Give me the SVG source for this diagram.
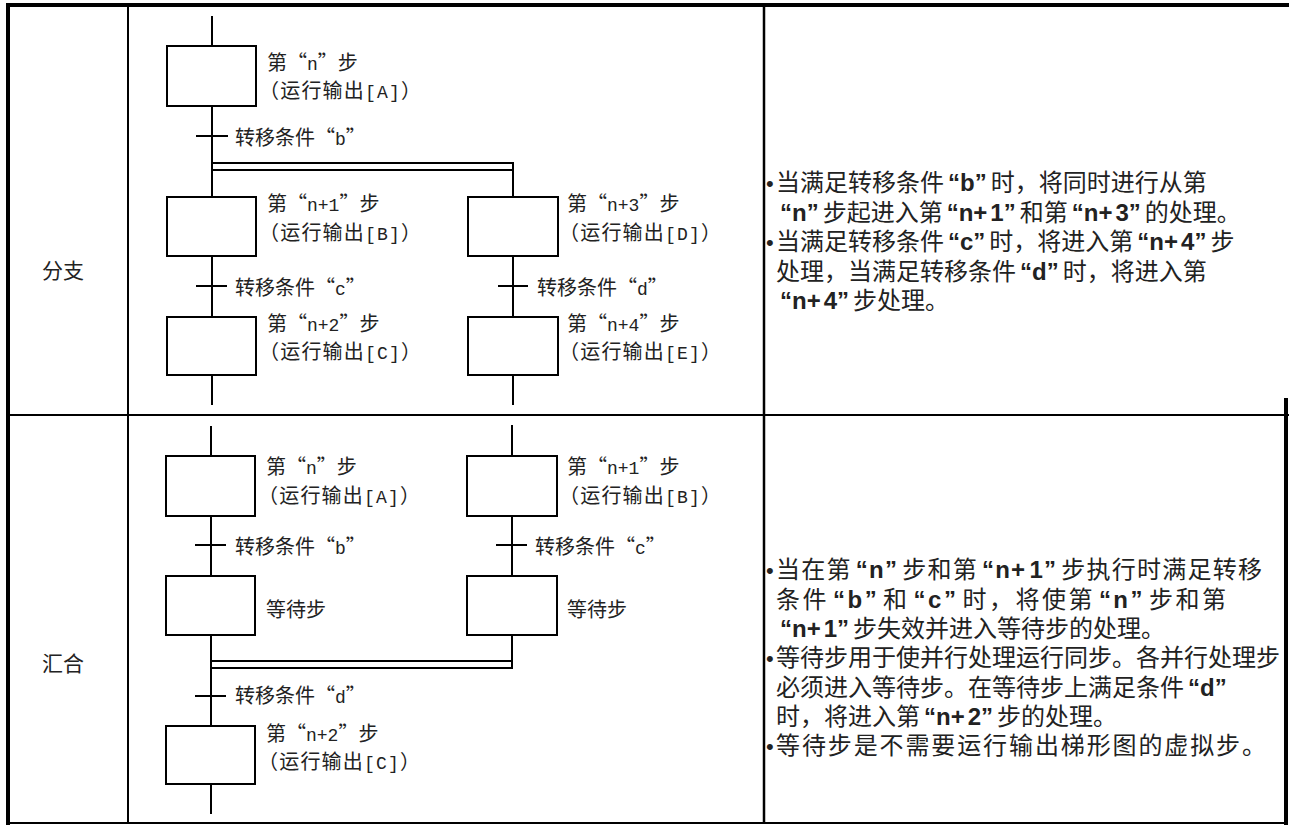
<svg xmlns="http://www.w3.org/2000/svg" width="1289" height="825" viewBox="0 0 1289 825">
<style>
.tb{stroke:#000;fill:none}
.box{fill:#fff;stroke:#000;stroke-width:2}
.ln{stroke:#000;stroke-width:2;fill:none}
.lab{font-family:"Noto Sans CJK SC",sans-serif;font-size:20px;fill:#222}
.M{font-family:"Liberation Mono",monospace;font-size:18px}
.hd{font-family:"Noto Sans CJK SC",sans-serif;font-size:21px;fill:#222}
.tx{font-family:"Noto Sans CJK SC",sans-serif;font-size:24px;fill:#222}
.bu{font-family:"Liberation Sans",sans-serif;font-size:22px;fill:#222}
.L{font-family:"Liberation Sans",sans-serif;font-weight:bold}
</style>
<rect width="1289" height="825" fill="#fff"/>
<g id="table">
<line class="tb" x1="6" y1="5" x2="1289" y2="5" stroke-width="4"/>
<line class="tb" x1="8" y1="3" x2="8" y2="825" stroke-width="4"/>
<line class="tb" x1="8" y1="415" x2="1289" y2="415" stroke-width="2"/>
<line class="tb" x1="128" y1="5" x2="128" y2="823" stroke-width="2"/>
<line class="tb" x1="764" y1="5" x2="764" y2="823" stroke-width="2.5"/>
<line class="tb" x1="8" y1="823" x2="1288" y2="823" stroke-width="2"/>
<line class="tb" x1="1286" y1="398" x2="1286" y2="825" stroke-width="4"/>
</g>
<g id="row-labels">
<text class="hd" x="42" y="278">分支</text>
<text class="hd" x="42" y="671">汇合</text>
</g>
<g id="connectors">
<line class="ln" x1="212" y1="16" x2="212" y2="405"/>
<line class="ln" x1="212" y1="163" x2="514" y2="163" stroke-width="3"/>
<line class="ln" x1="212" y1="170" x2="514" y2="170" stroke-width="2.5"/>
<line class="ln" x1="513" y1="162" x2="513" y2="405" stroke-width="2.5"/>
<line class="ln" x1="196" y1="136" x2="228" y2="136" stroke-width="2.5"/>
<line class="ln" x1="196" y1="286" x2="227" y2="286" stroke-width="3"/>
<line class="ln" x1="498" y1="286" x2="528" y2="286"/>
<line class="ln" x1="211" y1="426" x2="211" y2="814"/>
<line class="ln" x1="512" y1="425" x2="512" y2="669" stroke-width="2.5"/>
<line class="ln" x1="211" y1="661" x2="513" y2="661" stroke-width="3"/>
<line class="ln" x1="211" y1="668" x2="513" y2="668" stroke-width="2.5"/>
<line class="ln" x1="195" y1="545" x2="226" y2="545" stroke-width="2.5"/>
<line class="ln" x1="496" y1="545" x2="527" y2="545" stroke-width="1.5"/>
<line class="ln" x1="195" y1="696" x2="226" y2="696" stroke-width="4"/>
</g>
<g id="step-n-A"><rect class="box" x="167" y="46" width="89" height="60"/><text class="lab" x="267" y="70">第“<tspan class="M">n</tspan>”步</text><text class="lab" x="259" y="98" textLength="162">（运行输出<tspan class="M">[A]</tspan>）</text></g>
<g id="cond-b1"><text class="lab" x="235" y="145">转移条件“<tspan class="M">b</tspan>”</text></g>
<g id="step-n1-B"><rect class="box" x="167" y="197" width="89" height="59"/><text class="lab" x="267" y="211">第“<tspan class="M">n+1</tspan>”步</text><text class="lab" x="259" y="240" textLength="162">（运行输出<tspan class="M">[B]</tspan>）</text></g>
<g id="step-n3-D"><rect class="box" x="468" y="197" width="90" height="59" stroke-width="2.5"/><text class="lab" x="567" y="211">第“<tspan class="M">n+3</tspan>”步</text><text class="lab" x="559" y="240" textLength="162">（运行输出<tspan class="M">[D]</tspan>）</text></g>
<g id="cond-c1"><text class="lab" x="235" y="295">转移条件“<tspan class="M">c</tspan>”</text></g>
<g id="cond-d1"><text class="lab" x="537" y="295">转移条件“<tspan class="M">d</tspan>”</text></g>
<g id="step-n2-C"><rect class="box" x="167" y="317" width="89" height="58"/><text class="lab" x="267" y="331">第“<tspan class="M">n+2</tspan>”步</text><text class="lab" x="259" y="359" textLength="162">（运行输出<tspan class="M">[C]</tspan>）</text></g>
<g id="step-n4-E"><rect class="box" x="468" y="317" width="90" height="58" stroke-width="2.5"/><text class="lab" x="567" y="331">第“<tspan class="M">n+4</tspan>”步</text><text class="lab" x="559" y="359" textLength="162">（运行输出<tspan class="M">[E]</tspan>）</text></g>

<g id="m-step-n-A"><rect class="box" x="166" y="456" width="89" height="60"/><text class="lab" x="266" y="474">第“<tspan class="M">n</tspan>”步</text><text class="lab" x="258" y="503" textLength="162">（运行输出<tspan class="M">[A]</tspan>）</text></g>
<g id="m-step-n1-B"><rect class="box" x="467" y="456" width="90" height="60" stroke-width="3"/><text class="lab" x="567" y="474">第“<tspan class="M">n+1</tspan>”步</text><text class="lab" x="559" y="503" textLength="162">（运行输出<tspan class="M">[B]</tspan>）</text></g>
<g id="m-cond-b"><text class="lab" x="235" y="554">转移条件“<tspan class="M">b</tspan>”</text></g>
<g id="m-cond-c"><text class="lab" x="535" y="554">转移条件“<tspan class="M">c</tspan>”</text></g>
<g id="m-wait-1"><rect class="box" x="166" y="576" width="89" height="59"/><text class="lab" x="266" y="617">等待步</text></g>
<g id="m-wait-2"><rect class="box" x="467" y="576" width="90" height="59"/><text class="lab" x="567" y="617">等待步</text></g>
<g id="m-cond-d"><text class="lab" x="235" y="703">转移条件“<tspan class="M">d</tspan>”</text></g>
<g id="m-step-n2-C"><rect class="box" x="166" y="726" width="89" height="58"/><text class="lab" x="266" y="741">第“<tspan class="M">n+2</tspan>”步</text><text class="lab" x="258" y="769" textLength="162">（运行输出<tspan class="M">[C]</tspan>）</text></g>

<g id="desc-branch">
<text class="bu" x="766" y="191">•</text>
<text class="tx" x="776" y="191">当满足转移条件<tspan class="L" dx="4">“b”</tspan><tspan dx="4">时，将同时进行从第</tspan></text>
<text class="tx" x="780" y="221"><tspan class="L">“n”</tspan><tspan dx="4">步起进入第</tspan><tspan class="L" dx="4">“n+<tspan dx="3">1</tspan>”</tspan><tspan dx="4">和第</tspan><tspan class="L" dx="4">“n+<tspan dx="3">3</tspan>”</tspan><tspan dx="4">的处理。</tspan></text>
<text class="bu" x="766" y="250">•</text>
<text class="tx" x="776" y="250">当满足转移条件<tspan class="L" dx="4">“c”</tspan><tspan dx="4">时，将进入第</tspan><tspan class="L" dx="4">“n+<tspan dx="3">4</tspan>”</tspan><tspan dx="4">步</tspan></text>
<text class="tx" x="776" y="280">处理，当满足转移条件<tspan class="L" dx="4">“d”</tspan><tspan dx="4">时，将进入第</tspan></text>
<text class="tx" x="780" y="309"><tspan class="L">“n+<tspan dx="3">4</tspan>”</tspan><tspan dx="4">步处理。</tspan></text>
</g>
<g id="desc-merge">
<text class="bu" x="766" y="578">•</text>
<text class="tx" x="776" y="578" textLength="486" lengthAdjust="spacing">当在第<tspan class="L" dx="4">“n”</tspan><tspan dx="4">步和第</tspan><tspan class="L" dx="4">“n+<tspan dx="3">1</tspan>”</tspan><tspan dx="4">步执行时满足转移</tspan></text>
<text class="tx" x="776" y="608" textLength="450" lengthAdjust="spacing">条件<tspan class="L" dx="4">“b”</tspan><tspan dx="4">和</tspan><tspan class="L" dx="4">“c”</tspan><tspan dx="4">时，将使第</tspan><tspan class="L" dx="4">“n”</tspan><tspan dx="4">步和第</tspan></text>
<text class="tx" x="780" y="637"><tspan class="L">“n+<tspan dx="3">1</tspan>”</tspan><tspan dx="4">步失效并进入等待步的处理。</tspan></text>
<text class="bu" x="766" y="666">•</text>
<text class="tx" x="776" y="666">等待步用于使并行处理运行同步。各并行处理步</text>
<text class="tx" x="776" y="696">必须进入等待步。在等待步上满足条件<tspan class="L" dx="4">“d”</tspan></text>
<text class="tx" x="776" y="725">时，将进入第<tspan class="L" dx="4">“n+<tspan dx="3">2</tspan>”</tspan><tspan dx="4">步的处理。</tspan></text>
<text class="bu" x="766" y="754">•</text>
<text class="tx" x="776" y="754" textLength="490" lengthAdjust="spacing">等待步是不需要运行输出梯形图的虚拟步。</text>
</g>
</svg>
